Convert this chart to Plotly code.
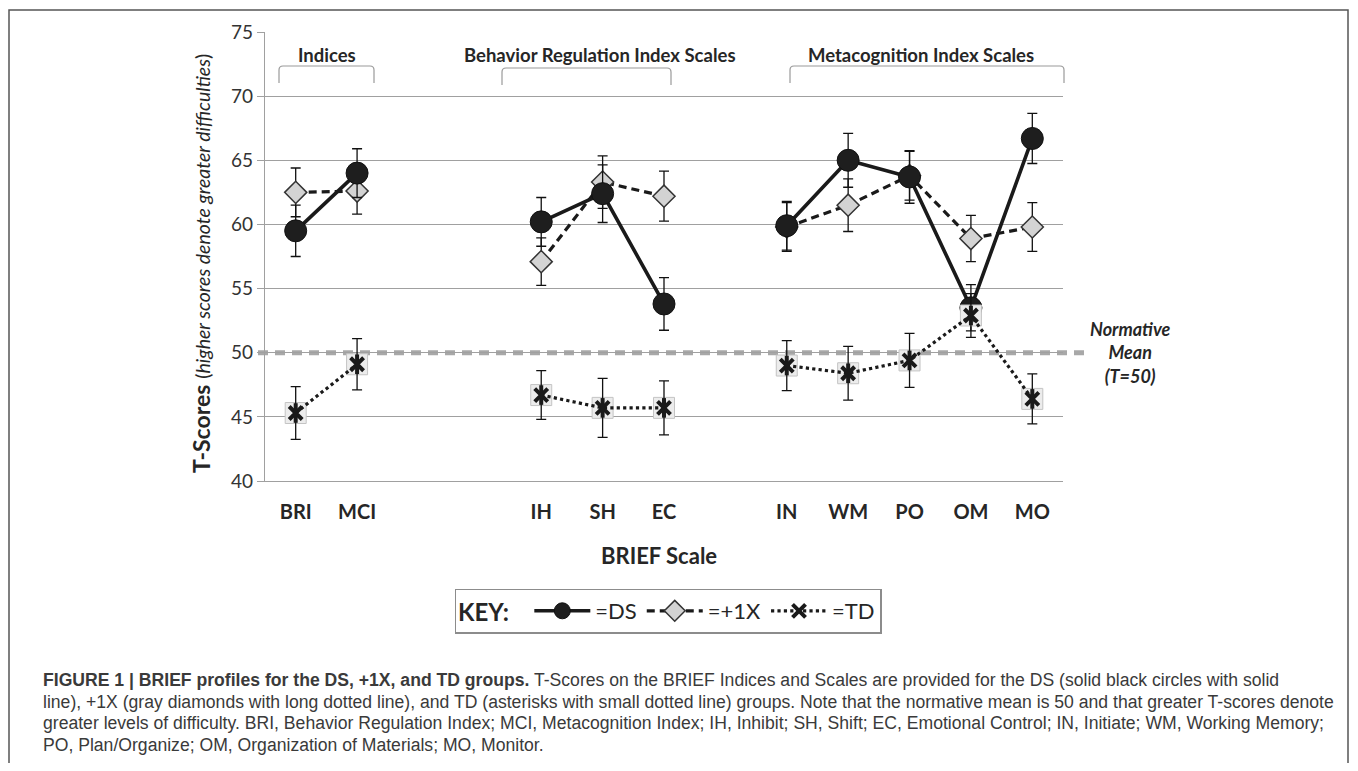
import plotly.graph_objects as go

# ---- data ----
categories = ["BRI", "MCI", " ", "  ", "IH", "SH", "EC", "   ", "IN", "WM", "PO", "OM", "MO"]
ds_mean = [59.5, 64.0, None, None, 60.2, 62.4, 53.8, None, 59.9, 65.0, 63.7, 53.5, 66.7]
ds_err = [2.0, 1.9, None, None, 1.9, 2.25, 2.05, None, 1.9, 2.1, 2.05, 1.8, 1.95]
plus_mean = [62.5, 62.6, None, None, 57.1, 63.3, 62.2, None, 59.8, 61.5, 63.8, 58.9, 59.8]
plus_err = [1.9, 1.8, None, None, 1.85, 2.05, 1.95, None, 1.9, 2.05, 1.9, 1.8, 1.9]
td_mean = [45.3, 49.1, None, None, 46.7, 45.7, 45.7, None, 49.0, 48.4, 49.4, 52.9, 46.4]
td_err = [2.05, 2.0, None, None, 1.9, 2.3, 2.1, None, 1.95, 2.1, 2.1, 1.7, 1.95]
y_ticks = [40, 45, 50, 55, 60, 65, 70, 75]
normative_mean = 50

FONT = "Lato"
TXT = "#262626"

# page has an 8px body margin; figure pixels = reference pixels - 8
OFF = 8
W, H = 1358 - 2 * OFF, 771 - 2 * OFF
L, R, T, B = 265, 1063, 32, 481          # plot area in reference pixels
def px(x):
    return (x - L) / (R - L)
def py(y):
    return (B - y) / (B - T)

fig = go.Figure()

err_style = dict(type="data", thickness=1.3, width=5, color="#111111")

fig.add_trace(go.Scatter(
    x=categories, y=plus_mean, name="=+1X", mode="lines+markers", legendrank=2,
    line=dict(color="#1a1a1a", width=3.2, dash="8px,5px"),
    marker=dict(symbol="diamond", size=17, color="#d3d3d3",
                line=dict(color="#333333", width=1.5)),
    error_y=dict(array=plus_err, **err_style),
))
fig.add_trace(go.Scatter(
    x=categories, y=ds_mean, name="=DS", mode="lines+markers", legendrank=1,
    line=dict(color="#1a1a1a", width=3.6),
    marker=dict(symbol="circle", size=22, color="#1e1e1e",
                line=dict(color="#111111", width=1)),
    error_y=dict(array=ds_err, **err_style),
))
fig.add_trace(go.Scatter(
    x=categories, y=td_mean, mode="markers", showlegend=False, hoverinfo="skip",
    marker=dict(symbol="square", size=21, color="#ececec",
                line=dict(color="#c4c4c4", width=1)),
))
fig.add_trace(go.Scatter(
    x=categories, y=td_mean, name="=TD", mode="lines+markers", legendrank=3,
    line=dict(color="#1a1a1a", width=3.2, dash="dot"),
    marker=dict(symbol="x-thin-open", size=13, color="#1a1a1a",
                line=dict(color="#1a1a1a", width=4)),
    error_y=dict(array=td_err, **err_style),
))
fig.add_trace(go.Scatter(
    x=categories, y=td_mean, mode="markers", showlegend=False, hoverinfo="skip",
    marker=dict(symbol="line-ns-open", size=14, color="#1a1a1a",
                line=dict(color="#1a1a1a", width=4)),
))

shapes = []
shapes.append(dict(type="line", xref="paper", yref="y", x0=px(258), x1=px(1090),
                   y0=normative_mean, y1=normative_mean,
                   line=dict(color="#a8a8a8", width=5, dash="10px,7px"), layer="below"))
def bracket(x0, x1, ytop, ybot, r=4):
    return dict(type="path", xref="paper", yref="paper",
                path=(f"M {px(x0)},{py(ybot)} L {px(x0)},{py(ytop + r)} "
                      f"Q {px(x0)},{py(ytop)} {px(x0 + r)},{py(ytop)} "
                      f"L {px(x1 - r)},{py(ytop)} Q {px(x1)},{py(ytop)} {px(x1)},{py(ytop + r)} "
                      f"L {px(x1)},{py(ybot)}"),
                line=dict(color="#9a9a9a", width=1.2))
shapes.append(bracket(279, 374, 66, 83))
shapes.append(bracket(502, 671, 68, 85))
shapes.append(bracket(790, 1064, 66, 83))
shapes.append(dict(type="rect", xref="paper", yref="paper",
                   x0=px(OFF + 1), x1=px(1348), y0=py(800), y1=py(10),
                   line=dict(color="#555555", width=1.5)))

def ann(text, x, y, size, color=TXT, family=FONT, **kw):
    d = dict(text=text, xref="paper", yref="paper", x=px(x), y=py(y), showarrow=False,
             xanchor="center", yanchor="middle",
             font=dict(family=family, size=size, color=color))
    d.update(kw)
    return d

annotations = []
for text, xc in [("Indices", 327), ("Behavior Regulation Index Scales", 600),
                 ("Metacognition Index Scales", 921)]:
    annotations.append(ann(f"<b>{text}</b>", xc, 55, 18.5))
annotations.append(ann("<b><i>Normative<br>Mean<br>(T=50)</i></b>", 1130, 352, 18, align="center"))
annotations.append(ann(
    "<b>T-Scores</b> <span style='font-size:19.5px'>(<i>higher scores denote greater difficulties</i>)</span>",
    201, 264, 23, textangle=-90))
annotations.append(ann("<b>BRIEF Scale</b>", 659, 555, 22))

caption_lines = [
    "<b>FIGURE 1 | BRIEF profiles for the DS, +1X, and TD groups.</b> T-Scores on the BRIEF Indices and Scales are provided for the DS (solid black circles with solid",
    "line), +1X (gray diamonds with long dotted line), and TD (asterisks with small dotted line) groups. Note that the normative mean is 50 and that greater T-scores denote",
    "greater levels of difficulty. BRI, Behavior Regulation Index; MCI, Metacognition Index; IH, Inhibit; SH, Shift; EC, Emotional Control; IN, Initiate; WM, Working Memory;",
    "PO, Plan/Organize; OM, Organization of Materials; MO, Monitor.",
]
for i, line in enumerate(caption_lines):
    annotations.append(ann(line, 41, 680 + i * 21.7, 17.6, color="#3a3a3a",
                           family="Liberation Sans", xanchor="left"))

fig.update_layout(
    width=W, height=H,
    margin=dict(l=L - OFF, r=W - (R - OFF), t=T - OFF, b=H - (B - OFF)),
    paper_bgcolor="white", plot_bgcolor="white",
    showlegend=True,
    legend=dict(orientation="h", x=px(668), y=py(611), xanchor="center", yanchor="middle",
                bordercolor="#8c8c8c", borderwidth=1.5, bgcolor="white",
                title=dict(text="<b>KEY:</b>  ", font=dict(family=FONT, size=24, color=TXT), side="left"),
                font=dict(family=FONT, size=22, color=TXT),
                itemwidth=56, tracegroupgap=0),
    shapes=shapes, annotations=annotations,
    font=dict(family=FONT, color=TXT),
)
fig.update_xaxes(type="category", categoryarray=categories, categoryorder="array",
                 range=[-0.5, 12.5], showgrid=False, showline=True, linecolor="#a0a0a0",
                 linewidth=1.2, ticks="", ticklabelstandoff=13,
                 tickfont=dict(family=FONT, size=20, color=TXT), tickprefix="<b>", ticksuffix="</b>")
fig.update_yaxes(range=[40, 75], tickvals=y_ticks, showgrid=True, gridcolor="#a0a0a0",
                 gridwidth=1.2, showline=True, linecolor="#a0a0a0", linewidth=1.2,
                 ticks="outside", ticklen=7, tickcolor="#a0a0a0", zeroline=False,
                 tickfont=dict(family=FONT, size=19, color="#333333"))

fig.write_html("out.html")
